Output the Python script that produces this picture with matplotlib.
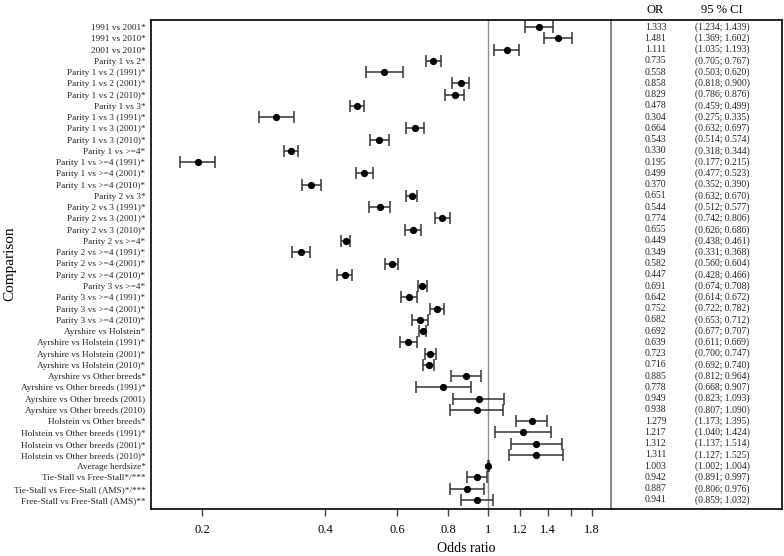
import numpy as np
import matplotlib
matplotlib.use('Agg')
import matplotlib.pyplot as plt
from matplotlib.ticker import FixedLocator, NullLocator

plt.rcParams['font.family'] = ['Liberation Serif', 'DejaVu Serif']

labels = ['1991 vs 2001*', '1991 vs 2010*', '2001 vs 2010*',
          'Parity 1 vs 2*', 'Parity 1 vs 2 (1991)*', 'Parity 1 vs 2 (2001)*', 'Parity 1 vs 2 (2010)*',
          'Parity 1 vs 3*', 'Parity 1 vs 3 (1991)*', 'Parity 1 vs 3 (2001)*', 'Parity 1 vs 3 (2010)*',
          'Parity 1 vs >=4*', 'Parity 1 vs >=4 (1991)*', 'Parity 1 vs >=4 (2001)*', 'Parity 1 vs >=4 (2010)*',
          'Parity 2 vs 3*', 'Parity 2 vs 3 (1991)*', 'Parity 2 vs 3 (2001)*', 'Parity 2 vs 3 (2010)*',
          'Parity 2 vs >=4*', 'Parity 2 vs >=4 (1991)*', 'Parity 2 vs >=4 (2001)*', 'Parity 2 vs >=4 (2010)*',
          'Parity 3 vs >=4*', 'Parity 3 vs >=4 (1991)*', 'Parity 3 vs >=4 (2001)*', 'Parity 3 vs >=4 (2010)*',
          'Ayrshire vs Holstein*', 'Ayrshire vs Holstein (1991)*', 'Ayrshire vs Holstein (2001)*',
          'Ayrshire vs Holstein (2010)*',
          'Ayrshire vs Other breeds*', 'Ayrshire vs Other breeds (1991)*', 'Ayrshire vs Other breeds (2001)',
          'Ayrshire vs Other breeds (2010)',
          'Holstein vs Other breeds*', 'Holstein vs Other breeds (1991)*', 'Holstein vs Other breeds (2001)*',
          'Holstein vs Other breeds (2010)*',
          'Average herdsize*', 'Tie-Stall vs Free-Stall*/***', 'Tie-Stall vs Free-Stall (AMS)*/***',
          'Free-Stall vs Free-Stall (AMS)**']

odds = [1.333, 1.481, 1.111,
        0.735, 0.558, 0.858, 0.829,
        0.478, 0.304, 0.664, 0.543,
        0.330, 0.195, 0.499, 0.370,
        0.651, 0.544, 0.774, 0.655,
        0.449, 0.349, 0.582, 0.447,
        0.691, 0.642, 0.752, 0.682,
        0.692, 0.639, 0.723, 0.716,
        0.885, 0.778, 0.949, 0.938,
        1.279, 1.217, 1.312, 1.311,
        1.003, 0.942, 0.887, 0.941]

ci_low = [1.234, 1.369, 1.035,
          0.705, 0.503, 0.818, 0.786,
          0.459, 0.275, 0.632, 0.514,
          0.318, 0.177, 0.477, 0.352,
          0.632, 0.512, 0.742, 0.626,
          0.438, 0.331, 0.560, 0.428,
          0.674, 0.614, 0.722, 0.653,
          0.677, 0.611, 0.700, 0.692,
          0.812, 0.668, 0.823, 0.807,
          1.173, 1.040, 1.137, 1.127,
          1.002, 0.891, 0.806, 0.859]

ci_high = [1.439, 1.602, 1.193,
           0.767, 0.620, 0.900, 0.876,
           0.499, 0.335, 0.697, 0.574,
           0.344, 0.215, 0.523, 0.390,
           0.670, 0.577, 0.806, 0.686,
           0.461, 0.368, 0.604, 0.466,
           0.708, 0.672, 0.782, 0.712,
           0.707, 0.669, 0.747, 0.740,
           0.964, 0.907, 1.093, 1.090,
           1.395, 1.424, 1.514, 1.525,
           1.004, 0.997, 0.976, 1.032]

xticks = [0.2, 0.4, 0.6, 0.8, 1, 1.2, 1.4, 1.6, 1.8]
xticklabels = ['0.2', '0.4', '0.6', '0.8', '1', '1.2', '1.4', '', '1.8']

odds = np.array(odds)
lo = np.array(ci_low)
hi = np.array(ci_high)
n = len(odds)
y = np.arange(n)

fig = plt.figure(figsize=(7.84, 5.56), dpi=100)
ax = fig.add_axes([151/784, 47/556, 460/784, 489/556])
ax2 = fig.add_axes([611/784, 47/556, 171/784, 489/556])

# rows: first at 27 px, last at 500 px from the top
step = (500 - 27) / (n - 1)
ylim = (n - 1 + 9 / step, -7 / step)

ax.axvline(1, color='#909090', lw=1.0, zorder=1)
ax.errorbar(odds, y, xerr=[odds - lo, hi - odds], fmt='o', color='black', ms=4.2,
            ecolor='#333333', elinewidth=1.1, capsize=4.0, capthick=1.1, zorder=3)

ax.set_xscale('log')
ax.set_xlim(0.15, 2.0)
ax.set_ylim(*ylim)
ax.xaxis.set_major_locator(FixedLocator(xticks))
ax.xaxis.set_minor_locator(NullLocator())
ax.set_xticklabels(xticklabels)
ax.set_yticks(y)
ax.set_yticklabels(labels, fontsize=6.7, color='#222222')
ax.tick_params(axis='y', length=0, pad=4)
ax.tick_params(axis='x', length=5, width=1, color='#444444', labelsize=9, pad=6)
for s in ax.spines.values():
    s.set_linewidth(1.2)
ax.spines['right'].set_visible(False)
fig.text(466/784, 1 - 549/556, 'Odds ratio', ha='center', va='center', fontsize=10)
fig.text(10/784, 1 - 264/556, 'Comparison', ha='center', va='center', rotation=90, fontsize=11)

# table on the right
ax2.set_xlim(0, 1)
ax2.set_ylim(*ylim)
ax2.set_xticks([])
ax2.set_yticks([])
for s in ax2.spines.values():
    s.set_linewidth(1.2)
ax2.spines['left'].set_color('#666666')
ax2.spines['left'].set_linewidth(1.1)
for i in range(n):
    ax2.text(0.26, y[i], f'{odds[i]:.3f}', ha='center', va='center', fontsize=6.9, color='#222222')
    ax2.text(0.65, y[i], f'({lo[i]:.3f}; {hi[i]:.3f})', ha='center', va='center', fontsize=6.9,
             color='#222222')
fig.text(655/784, 1 - 10/556, 'OR', ha='center', va='center', fontsize=9)
fig.text(722/784, 1 - 10/556, '95 % CI', ha='center', va='center', fontsize=9)

fig.savefig('out.png', dpi=100)
